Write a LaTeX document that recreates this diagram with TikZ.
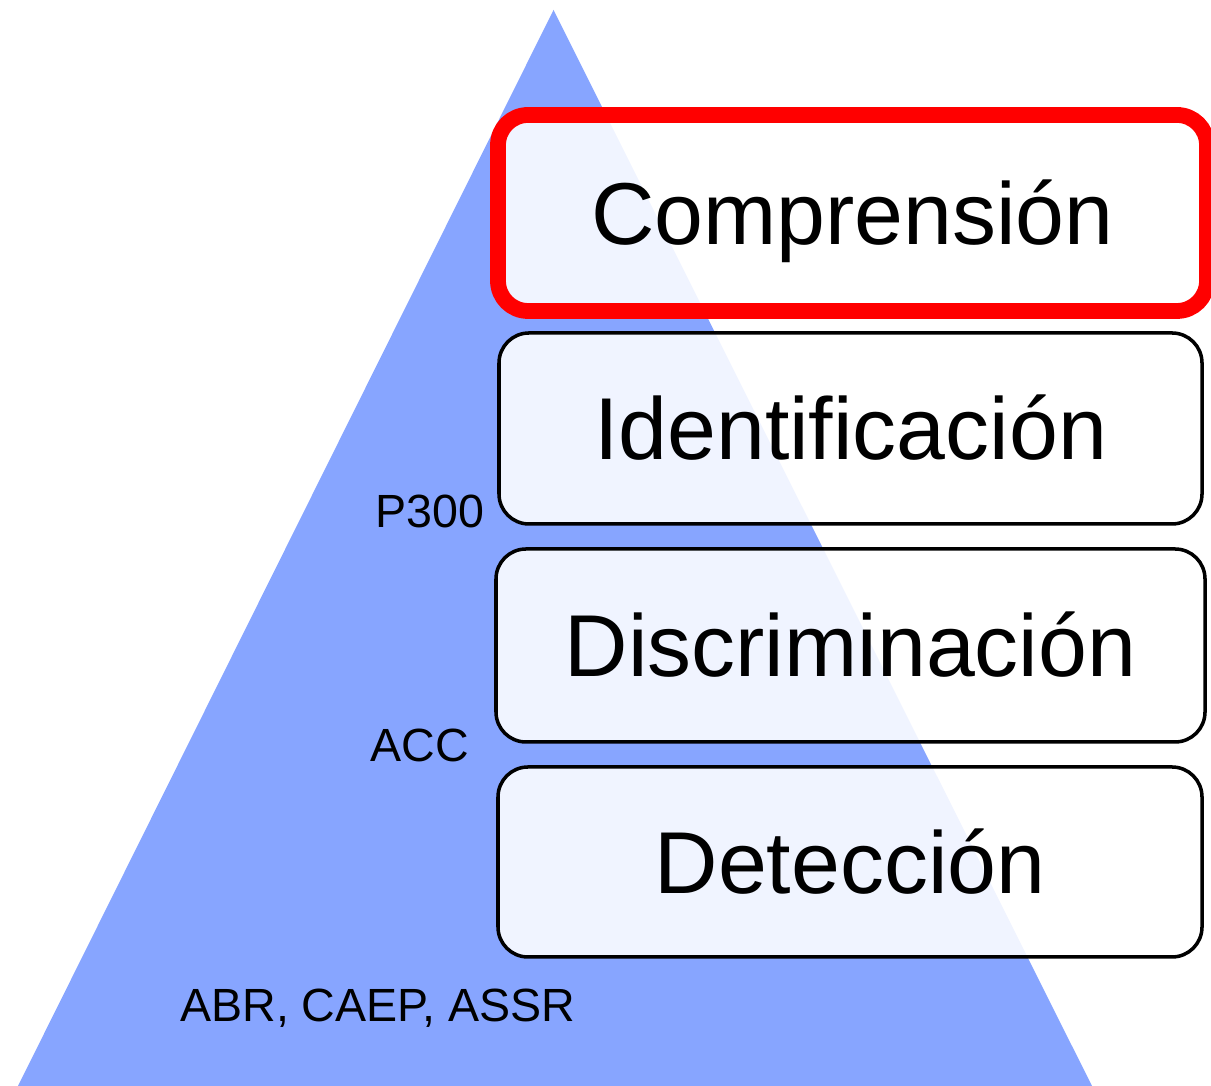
\documentclass[tikz,border=0pt]{standalone}
\usepackage{fontspec}
\setmainfont{Liberation Sans}
\usetikzlibrary{positioning}
\definecolor{pyrblue}{RGB}{135,165,255}

\begin{document}
\begin{tikzpicture}[
      level/.style={rectangle, draw, rounded corners=0.6cm, line width=2pt,
        fill=white, fill opacity=0.88, text opacity=1,
        font=\fontsize{50}{60}\selectfont, text height=35.8pt, text depth=0pt},
      tag/.style={anchor=base west, inner sep=0pt, font=\fontsize{26.5}{32}\selectfont}
    ]
    \useasboundingbox (0,0) rectangle (24.22,21.72);
    \fill[pyrblue] (11.07,21.52) -- (0.36,0) -- (21.84,0) -- cycle;
    \node[level, draw=red, line width=9pt, minimum width=14.18cm,
      minimum height=3.92cm] (compr) at (17.05,17.46) {Comprensión};
    \node[level, minimum width=14.06cm, minimum height=3.82cm] (ident)
      at (17.01,13.15) {Identificación};
    \node[level, minimum width=14.18cm, minimum height=3.86cm] (discr)
      at (17.01,8.81) {Discriminación};
    \node[level, minimum width=14.08cm, minimum height=3.8cm] (detec)
      at (17.0,4.48) {Detección};
    \node[tag] (p300) at (7.5,11.16) {P300};
    \node[tag] (acc) at (7.4,6.48) {ACC};
    \node[tag] (abr) at (3.6,1.28) {ABR, CAEP, ASSR};
  \end{tikzpicture}
\end{document}
